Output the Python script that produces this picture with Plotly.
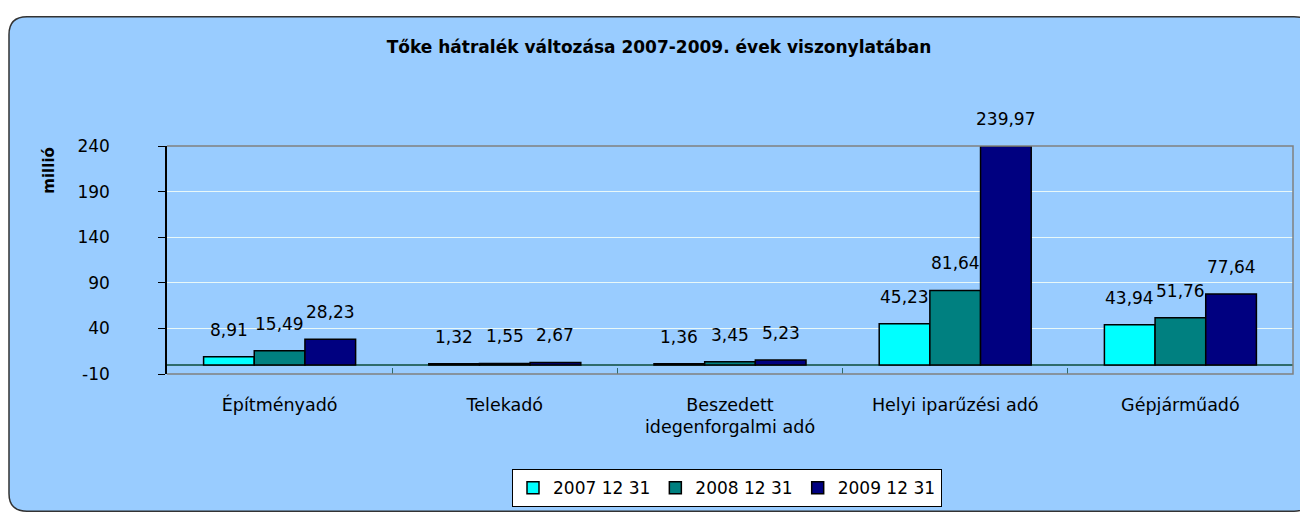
import plotly.graph_objects as go

# ---- data ----
categories = ["Építményadó", "Telekadó", "Beszedett<br>idegenforgalmi adó",
              "Helyi iparűzési adó", "Gépjárműadó"]
series_names = ["2007 12 31", "2008 12 31", "2009 12 31"]
v2007 = [8.91, 1.32, 1.36, 45.23, 43.94]
v2008 = [15.49, 1.55, 3.45, 81.64, 51.76]
v2009 = [28.23, 2.67, 5.23, 239.97, 77.64]
y_ticks = [-10, 40, 90, 140, 190, 240]
title_text = "Tőke hátralék változása 2007-2009. évek viszonylatában"
y_title = "millió"

# ---- layout geometry ----
W, H = 1300, 514
ML, MR, MT, MB = 167, 7, 146, 137
PW, PH = W - ML - MR, H - MT - MB
BARGAP = 0.325
colors = ["#00FFFF", "#008080", "#000080"]
FONT = "DejaVu Sans"


def px2paper(x, y):
    return (x - ML) / PW, (H - MB - y) / PH


def fmt(v):
    return f"{v:.2f}".replace(".", ",")


fig = go.Figure()
all_series = [v2007, v2008, v2009]
for name, vals, col in zip(series_names, all_series, colors):
    fig.add_trace(go.Bar(
        x=categories, y=vals, name=name,
        marker=dict(color=col, line=dict(color="black", width=1.5)),
    ))

# data labels above bars
barw = (PW / len(categories)) * (1 - BARGAP) / len(all_series)
annotations = []
for i, vals in enumerate(all_series):
    for c, v in zip(categories, vals):
        annotations.append(dict(
            x=c, y=v, xref="x", yref="y", text=fmt(v), showarrow=False,
            xshift=(i - 1) * barw, yshift=27, xanchor="center", yanchor="middle",
            font=dict(family=FONT, size=17, color="black"),
        ))

# y-axis title
ax, ay = px2paper(49, 171)
annotations.append(dict(
    x=ax, y=ay, xref="paper", yref="paper", text=f"<b>{y_title}</b>",
    showarrow=False, textangle=-90, xanchor="center", yanchor="middle",
    font=dict(family=FONT, size=15, color="black"),
))

# rounded background panel
L, T, R, B, r = 9, 15, 1312, 516, 18
pts = [
    ("M", (L, T + r)), ("Q", (L, T), (L + r, T)), ("L", (R - r, T)),
    ("Q", (R, T), (R, T + r)), ("L", (R, B - r)), ("Q", (R, B), (R - r, B)),
    ("L", (L + r, B)), ("Q", (L, B), (L, B - r)),
]
path = ""
for p in pts:
    cmd = p[0]
    coords = " ".join("%.5f,%.5f" % px2paper(*q) for q in p[1:])
    path += f"{cmd} {coords} "
path += "Z"

shapes = [
    dict(type="path", path=path, xref="paper", yref="paper", layer="below",
         fillcolor="#99CCFF", line=dict(color="#333333", width=1.5)),
    dict(type="path", path="M 0,0 L 1,0 L 1,1 L 0,1", xref="paper", yref="paper",
         layer="above", line=dict(color="#808080", width=1.5)),
]

fig.update_layout(
    width=W, height=H,
    margin=dict(l=ML, r=MR, t=MT, b=MB, pad=0),
    paper_bgcolor="white",
    plot_bgcolor="#33CCCC",
    barmode="group", bargap=BARGAP, bargroupgap=0,
    title=dict(text=f"<b>{title_text}</b>", x=659 / W, xanchor="center",
               y=(H - 47) / H, yanchor="middle",
               font=dict(family=FONT, size=17, color="black")),
    font=dict(family=FONT, size=17, color="black"),
    showlegend=True,
    legend=dict(orientation="h", x=px2paper(727, 0)[0], xanchor="center",
                y=px2paper(0, 512)[1], yanchor="bottom",
                bgcolor="white", bordercolor="black", borderwidth=1,
                font=dict(family=FONT, size=17, color="black"),
                itemwidth=30, traceorder="normal"),
    annotations=annotations,
    shapes=shapes,
    xaxis=dict(
        showgrid=False, showline=False,
        ticks="inside", tickson="boundaries", ticklen=6, tickcolor="#2F6B6B",
        tickfont=dict(family=FONT, size=17.5, color="black"),
        ticklabelstandoff=18,
    ),
    yaxis=dict(
        range=[y_ticks[0], y_ticks[-1]], tickvals=y_ticks,
        ticktext=[str(t) for t in y_ticks],
        showgrid=True, gridcolor="#E8F8F8", gridwidth=1,
        zeroline=True, zerolinecolor="#2F6B6B", zerolinewidth=1.5,
        showline=True, linecolor="black", linewidth=1.5,
        ticks="outside", ticklen=7, tickcolor="black",
        tickfont=dict(family=FONT, size=17, color="black"),
        ticklabelstandoff=45,
    ),
)

fig.write_html(
    "out.html",
    config={"displayModeBar": False},
    post_script="document.body.style.margin='0';document.body.style.overflow='hidden';",
)
